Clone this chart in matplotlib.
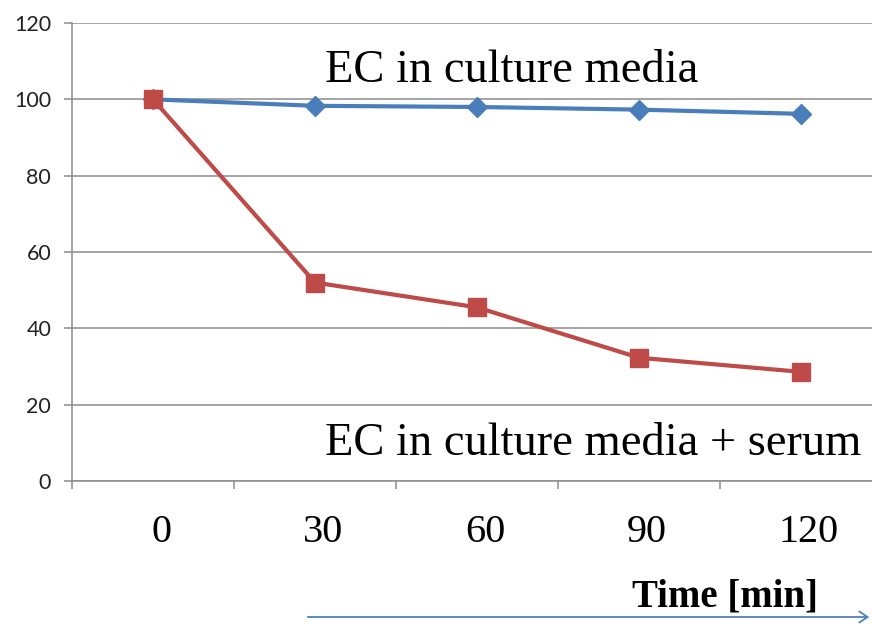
import matplotlib.pyplot as plt
from matplotlib.transforms import ScaledTranslation

# values (percent remaining vs time)
times = ['0', '30', '60', '90', '120']
media = [100, 98.3, 98.0, 97.3, 96.2]
serum = [100, 52.0, 45.5, 32.3, 28.6]

W, H = 872, 628
fig = plt.figure(figsize=(W / 100, H / 100), dpi=100)
# plot area runs a little past the right edge, like the cropped original
ax = fig.add_axes([72 / W, 147 / H, 810 / W, 458 / H])

grid_c = '#8c8c8c'
x = list(range(len(times)))
ax.plot(x, media, color='#4a7ebb', lw=3, marker='D', ms=10.5, zorder=3)
ax.plot(x, serum, color='#be4b48', lw=3, marker='s', ms=12.5, zorder=4)

ax.set_xlim(-0.5, len(times) - 0.5)
ax.set_ylim(0, 120)
ax.set_yticks(range(0, 121, 20))
ax.yaxis.grid(True, color=grid_c, lw=1.1)
ax.set_axisbelow(True)

for s in ['top', 'right']:
    ax.spines[s].set_visible(False)
for s in ['left', 'bottom']:
    ax.spines[s].set_color(grid_c)
    ax.spines[s].set_linewidth(1.1)

ax.tick_params(axis='y', direction='out', length=6, width=1.1, color=grid_c,
               pad=9, labelsize=15.5, labelcolor='#222222')
for lab in ax.get_yticklabels():
    lab.set_family('Lato')

# category labels centred, tick marks between categories
ax.set_xticks(x)
ax.set_xticklabels(times, family='Liberation Serif', fontsize=29)
ax.set_xticks([i - 0.5 for i in range(len(times) + 1)], minor=True)
ax.tick_params(axis='x', which='major', length=0, pad=24)
ax.tick_params(axis='x', which='minor', direction='out', length=6, width=1.1, color=grid_c)
off = ScaledTranslation(8 / 100, 0, fig.dpi_scale_trans)
for lab in ax.get_xticklabels():
    lab.set_transform(lab.get_transform() + off)

fig.text(325 / W, 1 - 82 / H, 'EC in culture media', family='Liberation Serif',
         fontsize=33.5, va='baseline', ha='left')
fig.text(325 / W, 1 - 455 / H, 'EC in culture media + serum', family='Liberation Serif',
         fontsize=33.5, va='baseline', ha='left')
fig.text(725 / W, 1 - 597 / H, 'Time [min]', family='Liberation Serif',
         fontsize=28, fontweight='bold', ha='center', va='center')

fig.patches.append(plt.matplotlib.patches.FancyArrowPatch(
    (305 / W, 1 - 617 / H), (872 / W, 1 - 617 / H), transform=fig.transFigure,
    arrowstyle='->,head_length=6,head_width=4', color='#4f81bd', lw=1.3))

fig.savefig('out.png', dpi=100)
